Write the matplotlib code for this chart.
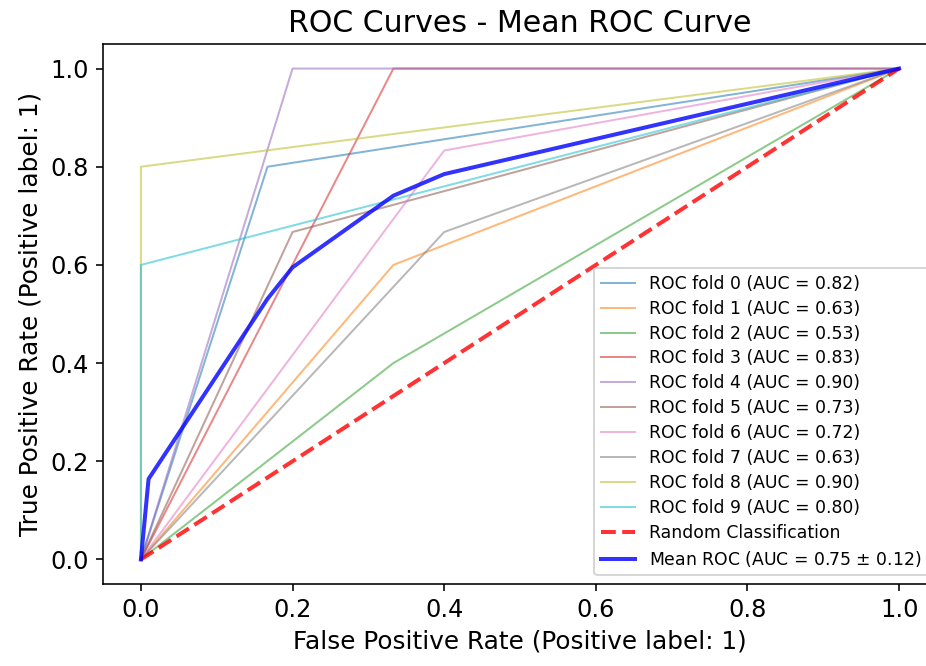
import matplotlib
matplotlib.use("Agg")
import matplotlib.pyplot as plt

# per-fold ROC points
fold_fpr = [
    [0.0, 0.167, 1.0],
    [0.0, 0.333, 1.0],
    [0.0, 0.333, 1.0],
    [0.0, 0.333, 1.0],
    [0.0, 0.2, 1.0],
    [0.0, 0.2, 1.0],
    [0.0, 0.4, 1.0],
    [0.0, 0.4, 1.0],
    [0.0, 0.0, 1.0],
    [0.0, 0.0, 1.0],
]
fold_tpr = [
    [0.0, 0.8, 1.0],
    [0.0, 0.6, 1.0],
    [0.0, 0.4, 1.0],
    [0.0, 1.0, 1.0],
    [0.0, 1.0, 1.0],
    [0.0, 0.667, 1.0],
    [0.0, 0.833, 1.0],
    [0.0, 0.667, 1.0],
    [0.0, 0.8, 1.0],
    [0.0, 0.6, 1.0],
]
fold_auc = [0.82, 0.63, 0.53, 0.83, 0.90, 0.73, 0.72, 0.63, 0.90, 0.80]

mean_fpr = [0.0, 0.0101, 0.167, 0.2, 0.333, 0.4, 1.0]
mean_tpr = [0.0, 0.164, 0.531, 0.595, 0.741, 0.785, 1.0]
mean_auc = 0.75
std_auc = 0.12

fig = plt.figure(figsize=(926 / 144, 666 / 144), dpi=144)
ax = fig.add_axes([103 / 926, 1 - 584 / 666, (937 - 103) / 926, (584 - 44) / 666])

for i in range(len(fold_auc)):
    ax.plot(fold_fpr[i], fold_tpr[i], lw=1, alpha=0.55,
            label=f"ROC fold {i} (AUC = {fold_auc[i]:.2f})")

ax.plot([0, 1], [0, 1], linestyle="--", lw=2, color="r",
        label="Random Classification", alpha=0.8)
ax.plot(mean_fpr, mean_tpr, color="b", lw=2, alpha=0.8,
        label=f"Mean ROC (AUC = {mean_auc:.2f} $\\pm$ {std_auc:.2f})")

ax.set_xlim(-0.05, 1.05)
ax.set_ylim(-0.05, 1.05)
ax.set_title("ROC Curves - Mean ROC Curve", fontsize=15)
ax.set_xlabel("False Positive Rate (Positive label: 1)", fontsize=12.4)
ax.set_ylabel("True Positive Rate (Positive label: 1)", fontsize=12.4)
ax.tick_params(labelsize=12)
ax.legend(loc="lower right", fontsize=8.6, labelspacing=0.4)

fig.savefig("out.png", dpi=144)
